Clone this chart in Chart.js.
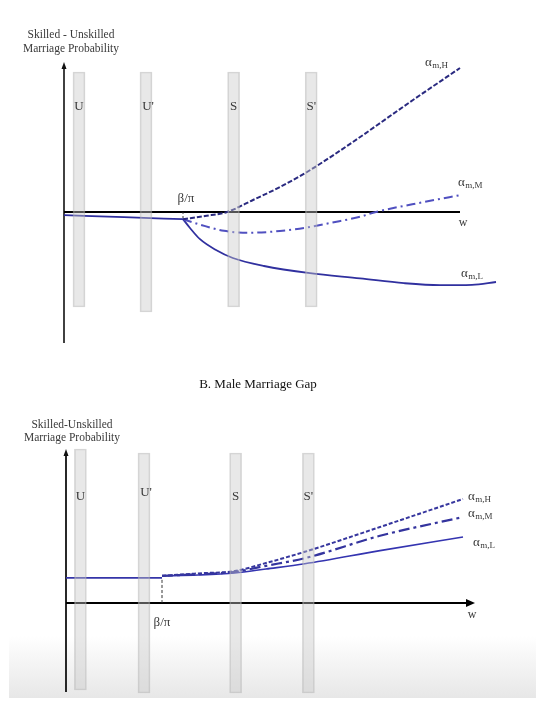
<!DOCTYPE html>
<html><head><meta charset="utf-8">
<script src="https://cdn.jsdelivr.net/npm/chart.js@4.4.1/dist/chart.umd.min.js"></script>
<style>
html,body{margin:0;padding:0;background:#fff;width:548px;height:703px;overflow:hidden}
#shade{position:absolute;left:9px;top:636px;width:527px;height:62px;background:linear-gradient(to bottom,rgba(236,236,236,0),#e7e7e7)}
#ca{position:absolute;left:0;top:0}
#cb{position:absolute;left:0;top:360px}
</style></head>
<body>
<div id="shade"></div>
<canvas id="ca" width="548" height="360"></canvas>
<canvas id="cb" width="548" height="343"></canvas>
<script>
// ===== Panel A: (top diagram) =====
const bandNames = ['U', "U'", 'S', "S'"];
const aBandX    = [0.375, 2.05, 4.24, 6.18];
const aBandLow  = [-2.375, -2.5, -2.375, -2.375];
const aBandHigh = [3.5, 3.5, 3.5, 3.5];
const aCommonX  = [0, 1.5, 2.975];
const aCommonY  = [-0.08, -0.13, -0.18];
const aHighX = [2.975, 3.525, 4.075, 4.725, 5.4, 6.075, 7.075, 8.725, 9.9];
const aHighY = [-0.18, -0.1, 0.0, 0.3, 0.625, 1.0, 1.65, 2.8, 3.6];
const aMidX  = [2.975, 3.45, 4.0, 4.6, 5.4, 6.15, 6.65, 7.4, 7.8, 9.0, 9.95];
const aMidY  = [-0.18, -0.33, -0.47, -0.52, -0.475, -0.375, -0.275, -0.12, 0.0, 0.25, 0.43];
const aLowX  = [2.975, 3.15, 3.4, 3.8, 4.22, 5.0, 6.15, 7.4, 8.5, 9.4, 10.2, 10.8];
const aLowY  = [-0.18, -0.4, -0.68, -0.95, -1.15, -1.35, -1.53, -1.66, -1.78, -1.83, -1.82, -1.75];
const aKinkX = 2.975;

// ===== Panel B: Male Marriage Gap =====
const bBandX    = [0.36, 1.95, 4.24, 6.06];
const bBandLow  = [-2.175, -2.25, -2.25, -2.25];
const bBandHigh = [3.85, 3.75, 3.75, 3.75];
const bCommonX  = [0, 2.4];
const bCommonY  = [0.63, 0.63];
const bCurveX = [2.4, 3.3, 4.22, 5.0, 5.97, 7.85, 9.925];
const bHighY  = [0.68, 0.74, 0.8, 1.0, 1.28, 1.9, 2.6];
const bMidY   = [0.68, 0.72, 0.78, 0.93, 1.12, 1.68, 2.15];
const bLowY   = [0.68, 0.7, 0.75, 0.85, 0.98, 1.31, 1.65];
const bKinkX = 2.4;

const SERIF = "'Liberation Serif','Times New Roman',serif";
const pts = (xs, ys) => xs.map((x, i) => ({x, y: ys[i]}));

function makeDiagram(spec) {
  return {
    id: 'diagram',
    beforeDatasetsDraw(chart) {
      const ctx = chart.ctx, X = v => chart.scales.x.getPixelForValue(v), Y = v => chart.scales.y.getPixelForValue(v);
      ctx.save();
      ctx.strokeStyle = '#111'; ctx.lineWidth = spec.yAxisWidth;
      const x0 = X(0), yTop = Y(spec.yAxisTop);
      ctx.beginPath(); ctx.moveTo(x0, Y(spec.yAxisBottom)); ctx.lineTo(x0, yTop + 5); ctx.stroke();
      ctx.fillStyle = '#111';
      ctx.beginPath(); ctx.moveTo(x0, yTop); ctx.lineTo(x0 - 2.5, yTop + 7); ctx.lineTo(x0 + 2.5, yTop + 7); ctx.closePath(); ctx.fill();
      ctx.lineWidth = 2.2; ctx.strokeStyle = '#000';
      const y0 = Y(0), xEnd = X(spec.xAxisEnd);
      ctx.beginPath(); ctx.moveTo(x0, y0); ctx.lineTo(spec.xArrow ? xEnd - 5 : xEnd, y0); ctx.stroke();
      if (spec.xArrow) {
        ctx.fillStyle = '#000';
        ctx.beginPath(); ctx.moveTo(xEnd, y0); ctx.lineTo(xEnd - 9, y0 - 4); ctx.lineTo(xEnd - 9, y0 + 4); ctx.closePath(); ctx.fill();
      }
      ctx.restore();
    },
    afterDraw(chart) {
      const ctx = chart.ctx, X = v => chart.scales.x.getPixelForValue(v), Y = v => chart.scales.y.getPixelForValue(v);
      ctx.save();
      ctx.textBaseline = 'middle';
      spec.texts.forEach(t => {
        ctx.fillStyle = t.color || '#3a3a3a';
        ctx.font = (t.size || 12) + 'px ' + SERIF;
        ctx.textAlign = t.align || 'center';
        const px = X(t.x), py = Y(t.y);
        ctx.fillText(t.t, px, py);
        if (t.sub) {
          const w = ctx.measureText(t.t).width;
          const sx = t.align === 'left' ? px + w : px + w / 2;
          ctx.font = (t.subSize || 9) + 'px ' + SERIF;
          ctx.textAlign = 'left';
          ctx.fillText(t.sub, sx + 0.5, py + 3);
        }
      });
      ctx.restore();
    }
  };
}

function bandDataset(xs, lo, hi) {
  return {
    type: 'bar', data: xs.map((x, i) => ({x, y: [lo[i], hi[i]]})),
    barThickness: 12, backgroundColor: 'rgba(200,200,200,0.42)',
    borderColor: 'rgba(175,175,175,0.5)', borderWidth: 1, borderSkipped: false,
    order: -1, clip: false
  };
}
function lineDataset(data, color, width, dash) {
  return {
    type: 'line', data, borderColor: color, borderWidth: width, borderDash: dash || [],
    fill: false, pointRadius: 0, cubicInterpolationMode: 'monotone', order: 1, clip: false
  };
}

function makeChart(id, datasets, scales, padding, spec) {
  return new Chart(document.getElementById(id), {
    type: 'line',
    data: { datasets },
    options: {
      responsive: false, animation: false, maintainAspectRatio: false,
      layout: { padding },
      scales: {
        x: { type: 'linear', min: scales.xmin, max: scales.xmax, display: false, offset: false },
        y: { type: 'linear', min: scales.ymin, max: scales.ymax, display: false }
      },
      plugins: { legend: { display: false }, tooltip: { enabled: false } },
      elements: { point: { radius: 0 } }
    },
    plugins: [makeDiagram(spec)]
  });
}

makeChart('ca', [
  bandDataset(aBandX, aBandLow, aBandHigh),
  lineDataset(pts(aCommonX, aCommonY), '#2e2e9e', 1.8),
  lineDataset(pts(aHighX, aHighY), '#2a2a80', 2, [5, 2]),
  lineDataset(pts(aMidX, aMidY), '#5050c0', 2, [9, 4, 2, 4]),
  lineDataset(pts(aLowX, aLowY), '#30309f', 1.8),
  lineDataset([{x: aKinkX, y: 0}, {x: aKinkX, y: aCommonY[2]}], '#333', 1, [2, 2])
], {xmin: 0, xmax: 11, ymin: -3.25, ymax: 3.75},
{left: 64, right: 44, top: 62, bottom: 18},
{
  yAxisTop: 3.75, yAxisBottom: -3.275, yAxisWidth: 1.6, xAxisEnd: 9.9, xArrow: false,
  texts: [
    {t: 'Skilled - Unskilled', x: 0.175, y: 4.425, size: 11.5},
    {t: 'Marriage Probability', x: 0.175, y: 4.075, size: 11.5},
    {t: bandNames[0], x: aBandX[0], y: 2.625, size: 13},
    {t: bandNames[1], x: aBandX[1] + 0.05, y: 2.625, size: 13},
    {t: bandNames[2], x: aBandX[2], y: 2.625, size: 13},
    {t: bandNames[3], x: aBandX[3], y: 2.625, size: 13},
    {t: 'β/π', x: 3.05, y: 0.325, size: 13},
    {t: 'w', x: 9.975, y: -0.275, size: 12},
    {t: 'α', sub: 'm,H', x: 9.025, y: 3.725, size: 13, align: 'left'},
    {t: 'α', sub: 'm,M', x: 9.85, y: 0.725, size: 13, align: 'left'},
    {t: 'α', sub: 'm,L', x: 9.925, y: -1.55, size: 13, align: 'left'}
  ]
});

makeChart('cb', [
  bandDataset(bBandX, bBandLow, bBandHigh),
  lineDataset(pts(bCommonX, bCommonY), '#3535a8', 1.8),
  lineDataset(pts(bCurveX, bHighY), '#36369e', 2, [4, 2]),
  lineDataset(pts(bCurveX, bMidY), '#34349e', 2.2, [11, 4, 3, 4]),
  lineDataset(pts(bCurveX, bLowY), '#3434b0', 1.6),
  lineDataset([{x: bKinkX, y: 0}, {x: bKinkX, y: bCommonY[1]}], '#333', 1, [3, 2])
], {xmin: 0, xmax: 11, ymin: -2.225, ymax: 3.85},
{left: 66, right: 42, top: 89, bottom: 11},
{
  yAxisTop: 3.85, yAxisBottom: -2.225, yAxisWidth: 1.8, xAxisEnd: 10.225, xArrow: true,
  texts: [
    {t: 'B. Male Marriage Gap', x: 4.8, y: 5.45, size: 13, color: '#111'},
    {t: 'Skilled-Unskilled', x: 0.15, y: 4.45, size: 11.5},
    {t: 'Marriage Probability', x: 0.15, y: 4.125, size: 11.5},
    {t: bandNames[0], x: bBandX[0], y: 2.65, size: 13},
    {t: bandNames[1], x: bBandX[1] + 0.05, y: 2.75, size: 13},
    {t: bandNames[2], x: bBandX[2], y: 2.65, size: 13},
    {t: bandNames[3], x: bBandX[3], y: 2.65, size: 13},
    {t: 'β/π', x: 2.4, y: -0.5, size: 13},
    {t: 'w', x: 10.15, y: -0.3, size: 12},
    {t: 'α', sub: 'm,H', x: 10.05, y: 2.65, size: 13, align: 'left'},
    {t: 'α', sub: 'm,M', x: 10.05, y: 2.225, size: 13, align: 'left'},
    {t: 'α', sub: 'm,L', x: 10.175, y: 1.5, size: 13, align: 'left'}
  ]
});
</script>
</body></html>
